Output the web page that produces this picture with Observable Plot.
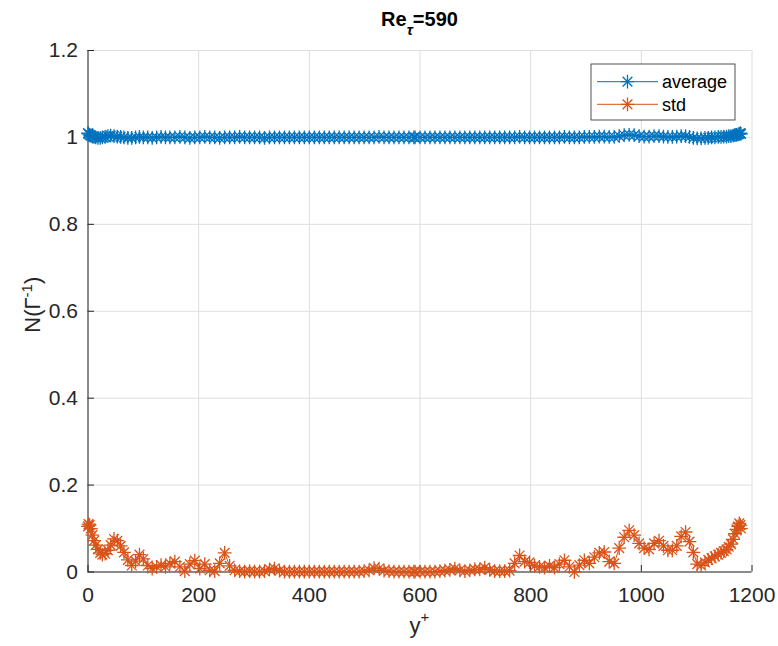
<!DOCTYPE html>
<html>
<head>
<meta charset="utf-8">
<script src="https://cdn.jsdelivr.net/npm/d3@7"></script>
<script src="https://cdn.jsdelivr.net/npm/@observablehq/plot@0.6"></script>
<style>
  html, body { margin: 0; padding: 0; background: #fff; }
  #chart svg { display: block; }
</style>
</head>
<body>
<div id="chart"></div>
<script>
// Wall-normal grid positions (wall units) and the two statistics of N(Γ⁻¹)
const yPlus = [
  0,1,3,5,8,11,14,18,22,26,31,36,41,47,53,59,65,72,79,86,93,100,
  108,116,124,132,140,148,
  157,166,175,184,193,202,211,220,229,238,247,256,265,274,283,292,301,310,319,328,
  337,346,355,364,373,382,391,400,409,418,427,436,445,454,463,472,481,490,499,508,
  517,526,535,544,553,562,571,580,589,
  591,600,609,618,627,636,645,654,663,672,681,690,699,708,717,726,735,744,753,762,
  771,780,789,798,807,816,825,834,843,852,861,870,879,888,897,906,915,924,933,
  942,951,960,969,978,987,996,1005,1014,1023,1032,
  1040,1048,1056,1064,1072,1080,1087,1094,1101,1108,1115,1121,1127,1133,1139,1144,
  1149,1154,1158,1162,1166,1169,1172,1175,1177,1179,1180
];

const average = [
  1.010,1.008,1.006,1.004,1.002,1.001,1.000,0.999,0.999,1.000,1.001,1.003,1.004,1.003,1.002,1.001,1.000,0.999,0.999,1.000,1.001,1.000,
  1.000,0.999,1.000,1.001,1.000,1.000,
  1.000,1.001,1.000,0.999,1.000,1.000,1.001,1.000,1.000,0.999,
  1.000,1.000,1.000,1.001,1.000,1.000,1.000,1.000,0.999,1.000,
  1.000,1.000,1.000,1.000,1.000,1.000,1.000,1.000,1.000,1.000,
  1.000,1.000,1.000,1.000,1.000,1.000,1.000,1.000,1.000,1.000,
  1.000,1.001,1.000,1.000,1.000,1.000,1.000,1.000,1.000,
  1.000,1.000,1.000,1.000,1.000,1.000,1.000,1.000,1.000,1.000,
  1.000,1.000,1.000,1.000,1.000,1.000,1.000,1.000,1.000,1.000,
  1.000,1.001,1.000,1.000,1.000,1.000,1.000,1.000,1.000,1.000,
  1.001,1.000,1.000,1.000,1.001,1.001,1.001,1.002,1.002,
  1.001,1.001,1.003,1.005,1.006,1.005,1.003,1.002,1.002,1.003,1.003,
  1.002,1.001,1.001,1.002,1.003,1.003,1.001,0.999,0.998,0.998,0.999,0.999,1.000,1.000,
  1.001,1.001,1.002,1.002,1.003,1.003,1.004,1.005,1.006,1.007,1.008,1.010,1.008
];

const stdDev = [
  0.105,0.110,0.108,0.100,0.085,0.072,0.062,0.052,0.044,0.040,0.042,0.050,0.062,0.076,0.072,0.060,0.045,0.028,0.015,0.025,0.040,0.030,
  0.015,0.008,0.012,0.016,0.012,0.020,
  0.024,0.012,0.002,0.018,0.026,0.008,0.018,0.004,0.002,0.020,
  0.044,0.014,0.004,0.002,0.001,0.002,0.001,0.001,0.002,0.006,
  0.008,0.003,0.001,0.001,0.001,0.001,0.001,0.001,0.001,0.001,
  0.001,0.001,0.001,0.001,0.001,0.001,0.001,0.001,0.002,0.004,
  0.009,0.008,0.003,0.002,0.001,0.001,0.001,0.001,0.001,
  0.001,0.001,0.001,0.001,0.001,0.002,0.003,0.005,0.008,0.004,
  0.002,0.004,0.006,0.006,0.010,0.005,0.002,0.002,0.002,0.003,
  0.020,0.038,0.024,0.022,0.014,0.012,0.010,0.014,0.010,0.018,
  0.027,0.012,0.000,0.016,0.027,0.020,0.034,0.044,0.046,
  0.024,0.020,0.055,0.080,0.096,0.085,0.066,0.055,0.052,0.066,0.072,
  0.060,0.050,0.050,0.060,0.082,0.092,0.070,0.045,0.018,0.015,0.022,0.028,0.032,0.036,
  0.040,0.044,0.048,0.052,0.058,0.064,0.075,0.088,0.098,0.105,0.112,0.108,0.100
];

const seriesNames = ["average", "std"];
const seriesColors = ["#0072BD", "#D95319"];
const xTicks = [0, 200, 400, 600, 800, 1000, 1200];
const yTicks = [0, 0.2, 0.4, 0.6, 0.8, 1, 1.2];

// Layout
const W = 778, H = 646;
const M = {top: 50, right: 26.5, bottom: 74.5, left: 87.5};
const plotW = W - M.left - M.right;
const plotH = H - M.top - M.bottom;
const ink = "#262626";
const gridInk = "#dedede";
const font = "'Liberation Sans', Arial, Helvetica, sans-serif";
const markerR = 4.5;
const markerW = 1.3;

const rows = [
  ...yPlus.map((x, i) => ({x, v: average[i], s: seriesNames[0]})),
  ...yPlus.map((x, i) => ({x, v: stdDev[i], s: seriesNames[1]}))
];

const chart = Plot.plot({
  width: W,
  height: H,
  marginTop: M.top,
  marginRight: M.right,
  marginBottom: M.bottom,
  marginLeft: M.left,
  style: {fontFamily: font, fontSize: "21px", color: ink, background: "#fff", overflow: "visible"},
  x: {domain: [0, 1200]},
  y: {domain: [0, 1.2]},
  color: {domain: seriesNames, range: seriesColors},
  marks: [
    Plot.gridX(xTicks, {stroke: gridInk, strokeOpacity: 1}),
    Plot.gridY(yTicks, {stroke: gridInk, strokeOpacity: 1}),
    // inward-pointing tick marks
    Plot.tickX(xTicks, {x: d => d, stroke: ink, insetTop: plotH - 6.5}),
    Plot.tickY(yTicks, {y: d => d, stroke: ink, insetRight: plotW - 6.5}),
    Plot.ruleX([0], {stroke: ink}),
    Plot.ruleY([0], {stroke: ink}),
    Plot.line(rows, {x: "x", y: "v", z: "s", stroke: "s", strokeWidth: 1}),
    Plot.dot(rows, {x: "x", y: "v", stroke: "s", symbol: "plus", r: markerR, strokeWidth: markerW}),
    Plot.dot(rows, {x: "x", y: "v", stroke: "s", symbol: "times", r: markerR, strokeWidth: markerW}),
    Plot.axisX(xTicks, {tickSize: 0, tickPadding: 15, label: null, fontSize: 21, fill: ink,
      tickFormat: d => String(d)}),
    Plot.axisY(yTicks, {tickSize: 0, tickPadding: 10, label: null, fontSize: 21, fill: ink,
      tickFormat: d => String(+d.toFixed(1))})
  ]
});

document.getElementById("chart").appendChild(chart);

const svg = d3.select(chart);
const cx = M.left + plotW / 2;
const cy = M.top + plotH / 2;

// Title: Re_τ=590
const title = svg.append("text")
  .attr("x", cx).attr("y", 26)
  .attr("text-anchor", "middle")
  .attr("font-family", font).attr("font-weight", "bold")
  .attr("font-size", 20).attr("fill", "#000");
title.append("tspan").text("Re");
title.append("tspan").attr("dy", 9).attr("font-size", 15).attr("font-style", "italic").text("τ");
title.append("tspan").attr("dy", -9).text("=590");

// x label: y⁺
const xl = svg.append("text")
  .attr("x", cx).attr("y", 633)
  .attr("text-anchor", "middle")
  .attr("font-family", font).attr("font-size", 22).attr("fill", ink);
xl.append("tspan").text("y");
xl.append("tspan").attr("dy", -11).attr("font-size", 15).text("+");

// y label: N(Γ⁻¹)
const yl = svg.append("text")
  .attr("transform", `translate(40,${cy - 6}) rotate(-90)`)
  .attr("text-anchor", "middle")
  .attr("font-family", font).attr("font-size", 22).attr("fill", ink);
yl.append("tspan").text("N(Γ");
yl.append("tspan").attr("dy", -8).attr("font-size", 15).text("-1");
yl.append("tspan").attr("dy", 8).text(")");

// Legend
const lg = svg.append("g")
  .attr("font-family", font).attr("font-size", 18).attr("text-anchor", "start");
lg.append("rect")
  .attr("x", 591).attr("y", 64).attr("width", 144).attr("height", 56)
  .attr("fill", "#fff").attr("stroke", ink).attr("stroke-width", 0.8);
const symPlus = d3.symbol(d3.symbolPlus, Math.PI * markerR * markerR)();
const symTimes = d3.symbol(d3.symbolTimes, Math.PI * markerR * markerR)();
seriesNames.forEach((name, i) => {
  const ry = 81.7 + i * 22.6;
  const col = seriesColors[i];
  lg.append("line").attr("x1", 597).attr("x2", 658).attr("y1", ry).attr("y2", ry)
    .attr("stroke", col).attr("stroke-width", 1);
  lg.append("path").attr("d", symPlus).attr("transform", `translate(627.5,${ry})`)
    .attr("fill", "none").attr("stroke", col).attr("stroke-width", markerW);
  lg.append("path").attr("d", symTimes).attr("transform", `translate(627.5,${ry})`)
    .attr("fill", "none").attr("stroke", col).attr("stroke-width", markerW);
  lg.append("text").attr("x", 662).attr("y", ry + 6.5).attr("fill", "#000").text(name);
});
</script>
</body>
</html>
